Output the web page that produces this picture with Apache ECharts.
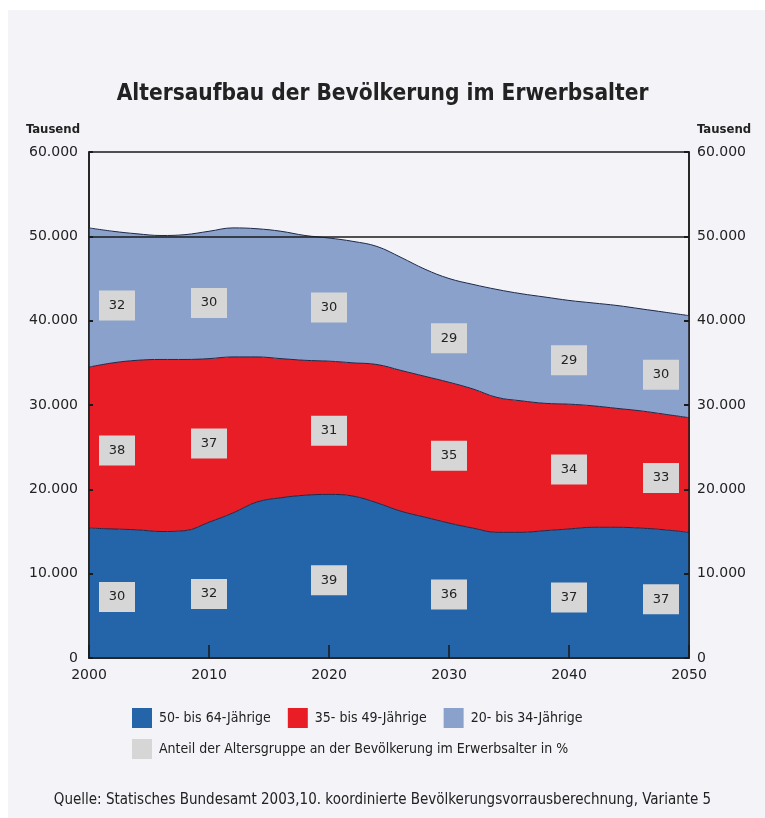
<!DOCTYPE html>
<html>
<head>
<meta charset="utf-8">
<script src="https://cdn.jsdelivr.net/npm/echarts@6/dist/echarts.min.js"></script>
<style>
html,body{margin:0;padding:0;background:#ffffff;}
#chart{width:765px;height:818px;}
</style>
</head>
<body>
<div id="chart"></div>
<script>
// ---- data (values in persons) ----
const years = ['2000','2002','2004','2006','2008','2010','2012','2014','2016','2018','2020','2022','2024','2026','2028','2030','2032','2034','2036','2038','2040','2042','2044','2046','2048','2050'];
const age50to64 = [15400,15300,15200,15000,15100,16100,17200,18500,19000,19300,19400,19200,18400,17400,16700,16000,15400,14900,14900,15100,15300,15500,15500,15400,15200,14900];
const age35to49 = [19100,19700,20100,20400,20300,19400,18500,17200,16500,16000,15800,15800,16400,16700,16700,16700,16500,16000,15600,15100,14800,14400,14100,13900,13700,13600];
const age20to34 = [16500,15600,15000,14700,14800,15100,15300,15200,15100,14800,14600,14400,14000,13400,12700,12300,12400,12800,12700,12600,12300,12200,12200,12100,12100,12100];

const seriesNames = ['50- bis 64-Jährige','35- bis 49-Jährige','20- bis 34-Jährige'];
const shareName = 'Anteil der Altersgruppe an der Bevölkerung im Erwerbsalter in %';
const shareYears = ['2000','2010','2020','2030','2040','2050'];
const share50to64 = [30,32,39,36,37,37];
const share35to49 = [38,37,31,35,34,33];
const share20to34 = [32,30,30,29,29,30];

const xTickLabels = ['2000','2010','2020','2030','2040','2050'];
const yTicks = [0,10000,20000,30000,40000,50000,60000];

const titleText = 'Altersaufbau der Bevölkerung im Erwerbsalter';
const unitText = 'Tausend';
const sourceText = 'Quelle: Statisches Bundesamt 2003,10. koordinierte Bevölkerungsvorrausberechnung, Variante 5';

// ---- styles ----
const C_BLUE = '#2464a8';
const C_RED = '#e91d25';
const C_LIGHT = '#8aa2cb';
const C_BOX = '#d6d6d6';
const C_TEXT = '#222222';
const C_AXIS = '#1a1a1a';
const C_EDGE = '#1e2848';
const NUM_FONT = 'DejaVu Sans';
const COND = 'DejaVu Sans Condensed';

function fmt(v){ return String(v).replace(/\B(?=(\d{3})+(?!\d))/g,'.'); }

// percentage boxes placed at the middle of each band
const bandOffsets = [4,3,8]; // px shift downward per band
const boxData = [];
shareYears.forEach((yr, k) => {
  const i = years.indexOf(yr);
  const b = age50to64[i], r = age35to49[i], l = age20to34[i];
  const mids = [b/2, b + r/2, b + r + l/2];
  const vals = [share50to64[k], share35to49[k], share20to34[k]];
  const dx = k === 0 ? 28 : (k === shareYears.length-1 ? -28 : 0);
  mids.forEach((m, j) => {
    boxData.push({ value: [yr, m, vals[j]], symbolOffset: [dx, bandOffsets[j]] });
  });
});

const chart = echarts.init(document.getElementById('chart'), null, {renderer:'canvas'});

const areaCommon = (name, data, color) => ({
  name: name,
  type: 'line',
  stack: 'total',
  data: data,
  color: color,
  smooth: 0.4,
  symbol: 'none',
  lineStyle: { color: C_EDGE, width: 1 },
  areaStyle: { color: color, opacity: 1 },
  emphasis: { disabled: true },
  z: 2
});

const lightSeries = areaCommon(seriesNames[2], age20to34, C_LIGHT);
lightSeries.markLine = {
  silent: true,
  symbol: 'none',
  label: { show: false },
  lineStyle: { color: C_AXIS, width: 1.5, type: 'solid' },
  data: [{ yAxis: 50000 }]
};

const decade = (idx, val) => xTickLabels.indexOf(val) >= 0;

chart.setOption({
  backgroundColor: '#ffffff',
  animation: false,
  title: [
    { text: titleText, left: 'center', top: 78,
      textStyle: { fontFamily: COND, fontWeight: 'bold', fontSize: 22.5, color: C_TEXT } },
    { text: sourceText, left: 'center', top: 788,
      textStyle: { fontFamily: COND, fontWeight: 'normal', fontSize: 15, color: C_TEXT } }
  ],
  graphic: [
    { type: 'rect', shape: { x: 8, y: 10, width: 757, height: 808 }, style: { fill: '#f3f3f8' }, z: -100, silent: true },
    { type: 'text', x: 80, y: 123, style: { text: unitText, align: 'right', font: 'bold 13px "DejaVu Sans Condensed"', fill: C_TEXT } },
    { type: 'text', x: 697, y: 123, style: { text: unitText, align: 'left', font: 'bold 13px "DejaVu Sans Condensed"', fill: C_TEXT } }
  ],
  legend: [
    { data: seriesNames, left: 132, top: 708, padding: 0, orient: 'horizontal', icon: 'rect',
      itemWidth: 20, itemHeight: 20, itemGap: 17, selectedMode: false,
      textStyle: { fontFamily: COND, fontSize: 14, color: C_TEXT, padding: [0,0,0,2] } },
    { data: [shareName], left: 132, top: 739, padding: 0, icon: 'rect',
      itemWidth: 20, itemHeight: 20, selectedMode: false,
      textStyle: { fontFamily: COND, fontSize: 14, color: C_TEXT, padding: [0,0,0,2] } }
  ],
  grid: { left: 89, right: 76, top: 152, bottom: 160, show: true, borderColor: C_AXIS, borderWidth: 1.5, backgroundColor: 'transparent' },
  xAxis: {
    type: 'category', data: years, boundaryGap: false,
    axisLine: { show: true, lineStyle: { color: C_AXIS, width: 1.5 } },
    axisTick: { show: true, inside: true, length: 13, interval: decade, lineStyle: { color: C_AXIS, width: 1.5 } },
    axisLabel: { fontFamily: NUM_FONT, fontSize: 14, color: C_TEXT, margin: 10, interval: decade },
    splitLine: { show: false },
    z: 5
  },
  yAxis: [
    { type: 'value', position: 'left', min: yTicks[0], max: yTicks[yTicks.length-1], interval: yTicks[1]-yTicks[0],
      axisLine: { show: true, lineStyle: { color: C_AXIS, width: 1.5 } },
      axisTick: { show: true, inside: true, length: 4, lineStyle: { color: C_AXIS, width: 2 } },
      axisLabel: { fontFamily: NUM_FONT, fontSize: 14, color: C_TEXT, margin: 11, padding: [0,0,6,0], formatter: fmt },
      splitLine: { show: false }, z: 5 },
    { type: 'value', position: 'right', min: yTicks[0], max: yTicks[yTicks.length-1], interval: yTicks[1]-yTicks[0],
      axisLine: { show: true, lineStyle: { color: C_AXIS, width: 1.5 } },
      axisTick: { show: true, inside: true, length: 5, lineStyle: { color: C_AXIS, width: 2 } },
      axisLabel: { fontFamily: NUM_FONT, fontSize: 14, color: C_TEXT, margin: 8, padding: [0,0,6,0], formatter: fmt },
      splitLine: { show: false }, z: 5 }
  ],
  series: [
    areaCommon(seriesNames[0], age50to64, C_BLUE),
    areaCommon(seriesNames[1], age35to49, C_RED),
    lightSeries,
    {
      name: shareName,
      type: 'scatter',
      data: boxData,
      color: C_BOX,
      symbol: 'rect',
      symbolSize: [36, 30],
      itemStyle: { color: C_BOX, opacity: 1 },
      label: { show: true, position: 'inside', formatter: p => String(p.value[2]),
        fontFamily: NUM_FONT, fontSize: 13, color: C_TEXT },
      emphasis: { disabled: true },
      z: 10
    }
  ]
});
</script>
</body>
</html>
